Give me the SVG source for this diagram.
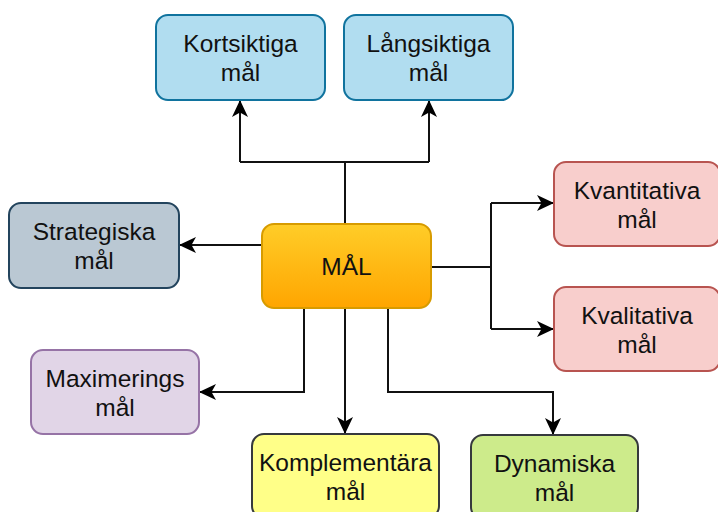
<svg xmlns="http://www.w3.org/2000/svg" width="718" height="512" viewBox="0 0 718 512">
<defs>
<linearGradient id="gOrange" x1="0" y1="0" x2="0" y2="1">
<stop offset="0" stop-color="#ffcd28"/>
<stop offset="1" stop-color="#ffa500"/>
</linearGradient>
<marker id="arr" markerUnits="userSpaceOnUse" markerWidth="18" markerHeight="16" viewBox="0 0 18 16" refX="17" refY="8" orient="auto">
<path d="M0,0 L17,8 L0,16 L4.5,8 Z" fill="#000"/>
</marker>
<style>
.box{stroke-width:2}
.t{font-family:"Liberation Sans",Arial,Helvetica,sans-serif;font-size:24.5px;fill:#111;text-anchor:middle}
.c{fill:none;stroke:#111;stroke-width:2}
</style>
</defs>
<rect width="718" height="512" fill="#fff"/>
<g id="connectors">
<path class="c" d="M345,224 V162 M240,162 H429"/>
<path class="c" d="M240,162 V100" marker-end="url(#arr)"/>
<path class="c" d="M429,162 V100" marker-end="url(#arr)"/>
<path class="c" d="M262,245 H179" marker-end="url(#arr)"/>
<path class="c" d="M431,267 H491 M491,203 V329"/>
<path class="c" d="M491,203 H554" marker-end="url(#arr)"/>
<path class="c" d="M491,329 H554" marker-end="url(#arr)"/>
<path class="c" d="M304,308 V392 H199" marker-end="url(#arr)"/>
<path class="c" d="M345,308 V434" marker-end="url(#arr)"/>
<path class="c" d="M388,308 V392 H553 V435" marker-end="url(#arr)"/>
</g>
<g id="kortsiktiga">
<rect class="box" x="156" y="15" width="169" height="85" rx="12" fill="#b1ddf0" stroke="#10739e"/>
<text class="t" x="240.5" y="52">Kortsiktiga</text>
<text class="t" x="240.5" y="81">mål</text>
</g>
<g id="langsiktiga">
<rect class="box" x="344" y="15" width="169" height="85" rx="12" fill="#b1ddf0" stroke="#10739e"/>
<text class="t" x="428.5" y="52">Långsiktiga</text>
<text class="t" x="428.5" y="81">mål</text>
</g>
<g id="strategiska">
<rect class="box" x="9" y="203" width="170" height="85" rx="12" fill="#bac8d3" stroke="#23445d"/>
<text class="t" x="94" y="240">Strategiska</text>
<text class="t" x="94" y="269">mål</text>
</g>
<g id="mal">
<rect class="box" x="262" y="224" width="169" height="84" rx="12" fill="url(#gOrange)" stroke="#d79b00"/>
<text class="t" x="346.5" y="275">MÅL</text>
</g>
<g id="kvantitativa">
<rect class="box" x="554" y="162" width="166" height="84" rx="12" fill="#f8cecc" stroke="#b85450"/>
<text class="t" x="637" y="199">Kvantitativa</text>
<text class="t" x="637" y="228">mål</text>
</g>
<g id="kvalitativa">
<rect class="box" x="554" y="287" width="166" height="84" rx="12" fill="#f8cecc" stroke="#b85450"/>
<text class="t" x="637" y="324">Kvalitativa</text>
<text class="t" x="637" y="353">mål</text>
</g>
<g id="maximerings">
<rect class="box" x="31" y="350" width="168" height="84" rx="12" fill="#e1d5e7" stroke="#9673a6"/>
<text class="t" x="115" y="387">Maximerings</text>
<text class="t" x="115" y="416">mål</text>
</g>
<g id="komplementara">
<rect class="box" x="252" y="434" width="187" height="84" rx="12" fill="#ffff88" stroke="#36393d"/>
<text class="t" x="345.5" y="471">Komplementära</text>
<text class="t" x="345.5" y="500">mål</text>
</g>
<g id="dynamiska">
<rect class="box" x="471" y="435" width="167" height="84" rx="12" fill="#cdeb8b" stroke="#36393d"/>
<text class="t" x="554.5" y="472">Dynamiska</text>
<text class="t" x="554.5" y="501">mål</text>
</g>
</svg>
